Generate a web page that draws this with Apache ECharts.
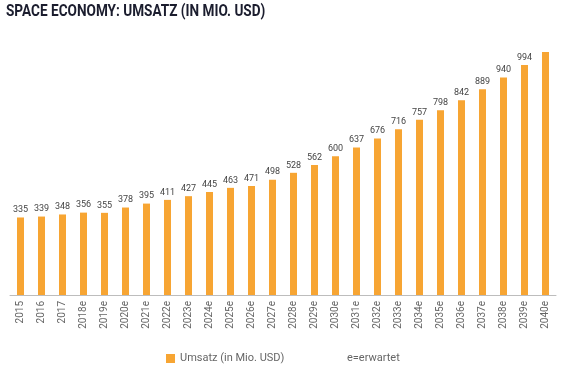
<!DOCTYPE html>
<html>
<head>
<meta charset="utf-8">
<script src="https://cdn.jsdelivr.net/npm/echarts@6/dist/echarts.min.js"></script>
<style>
html,body{margin:0;padding:0;background:#fff;}
#chart{width:569px;height:379px;}
</style>
</head>
<body>
<div id="chart"></div>
<script>
const title = 'SPACE ECONOMY: UMSATZ (IN MIO. USD)';
const categories = ['2015','2016','2017','2018e','2019e','2020e','2021e','2022e','2023e','2024e','2025e','2026e','2027e','2028e','2029e','2030e','2031e','2032e','2033e','2034e','2035e','2036e','2037e','2038e','2039e','2040e'];
const revenue = [335,339,348,356,355,378,395,411,427,445,463,471,498,528,562,600,637,676,716,757,798,842,889,940,994,1050];
const seriesName = 'Umsatz (in Mio. USD)';
const note = 'e=erwartet';

const chart = echarts.init(document.getElementById('chart'), null, {renderer:'canvas'});
const data = revenue.map((v,i)=> i === revenue.length-1 ? {value:v,label:{show:false}} : v);
chart.setOption({
  animation:false,
  grid:{left:10, right:13, top:52, bottom:84, containLabel:false},
  xAxis:{
    type:'category', data:categories,
    axisLine:{lineStyle:{color:'#bdbdbd', width:1}},
    axisTick:{show:false},
    axisLabel:{rotate:90, fontSize:10, color:'#666', margin:6, fontFamily:'Roboto', interval:0}
  },
  yAxis:{type:'value', min:0, max:1050, show:false, splitLine:{show:false}},
  legend:{
    left:161, top:348, padding:5, itemWidth:9, itemHeight:9, icon:'rect',
    textStyle:{fontSize:11, color:'#666', fontFamily:'Roboto'},
    data:[seriesName]
  },
  graphic:[
    {type:'text', x:6, y:4, scaleX:0.85, style:{text:title, fontSize:16, fontWeight:'bold', fill:'#1b1d2e', fontFamily:'Roboto'}},
    {type:'text', left:347, top:353, style:{text:note, fontSize:11, fill:'#666', fontFamily:'Roboto'}}
  ],
  series:[{
    name:seriesName, type:'bar', data:data, barWidth:7,
    itemStyle:{color:'#f7a533'},
    label:{show:true, position:'top', distance:3, fontSize:9, color:'#444', fontFamily:'Roboto'}
  }]
});
</script>
</body>
</html>
